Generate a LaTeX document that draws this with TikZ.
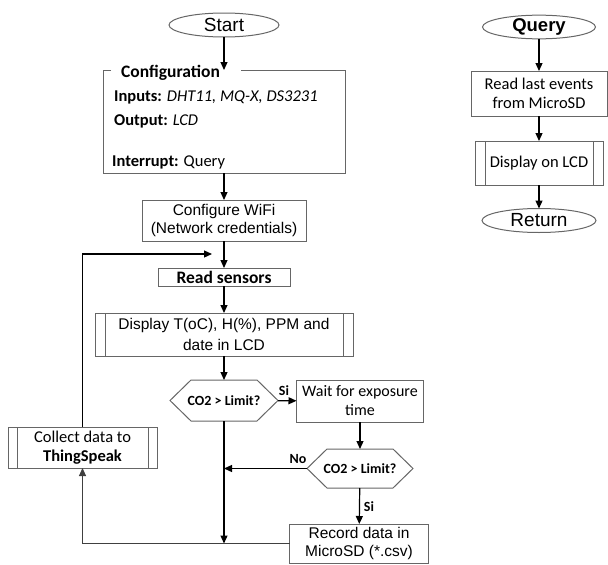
\documentclass[tikz,border=0pt]{standalone}
\usepackage{fontspec}
\setmainfont{Liberation Sans}
\newfontfamily\calibrifont{Carlito}
\usetikzlibrary{shapes.geometric,arrows.meta}

\newcommand{\hexoutline}[2]{
    \draw[shapeline] (#1.west) -- ([xshift=#2]#1.north west) -- ([xshift=-#2]#1.north east)
        -- (#1.east) -- ([xshift=-#2]#1.south east) -- ([xshift=#2]#1.south west) -- cycle;
}
\newcommand{\sidebars}[2]{
    \draw[shapeline] ([xshift=#2]#1.north west) -- ([xshift=#2]#1.south west)
        ([xshift=-#2]#1.north east) -- ([xshift=-#2]#1.south east);
}
\tikzset{x=1pt, y=-1pt,
    shapeline/.style={draw=black!60, line width=1pt},
    box/.style={shapeline, rectangle, align=center, inner sep=0pt, outer sep=0pt},
    plain/.style={rectangle, align=center, inner sep=0pt, outer sep=0pt},
    term/.style={shapeline, ellipse, inner sep=0pt, outer sep=0pt, font=\fontsize{19}{21}\selectfont},
    arial/.style={font=\fontsize{15.5}{18}\selectfont},
    calib/.style={font=\calibrifont\fontsize{16.5}{19}\selectfont},
    flow/.style={line width=1.2pt, -{Triangle[length=8pt,width=7pt]}},
    lbl/.style={font=\calibrifont\bfseries\fontsize{14}{15}\selectfont, inner sep=0pt}
}

\begin{document}
\begin{tikzpicture}
    \useasboundingbox (0,0) rectangle (608,565);
    % main loop
    \node[term, minimum width=110pt, minimum height=24pt] (start) at (224,25) {Start};
    \node[plain, minimum width=242pt, minimum height=103pt] (config) at (224,121.5) {};
    \draw[shapeline] ([xshift=8pt]config.north west) -- (config.north west) -- (config.south west)
        -- (config.south east) -- (config.north east) -- ([xshift=138pt]config.north west);
    \node[calib, font=\calibrifont\bfseries\fontsize{17.5}{19}\selectfont, anchor=west, inner sep=0pt] (cfgtitle) at (121,73) {Configuration};
    \node[calib, anchor=west, inner sep=0pt] (cfgin) at (114,97) {\textbf{Inputs:} \textit{DHT11, MQ-X, DS3231}};
    \node[calib, anchor=west, inner sep=0pt] (cfgout) at (114,121) {\textbf{Output:} \textit{LCD}};
    \node[calib, anchor=west, inner sep=0pt] (cfgint) at (112,162) {\textbf{Interrupt:} Query};
    \node[box, arial, minimum width=164pt, minimum height=41pt] (wifi) at (224,220.5) {Configure WiFi\\(Network credentials)};
    \node[box, font=\calibrifont\bfseries\fontsize{17.5}{19}\selectfont, minimum width=132pt, minimum height=18pt] (read) at (224,277) {Read sensors};
    \node[box, arial, font=\fontsize{15.5}{21}\selectfont, minimum width=258pt, minimum height=43pt] (disp) at (224,334.5) {Display T(oC), H(\%), PPM and\\date in LCD};
    \sidebars{disp}{10pt}
    \node[plain, lbl, minimum width=108pt, minimum height=41pt] (dec1) at (224,400.5) {CO2 > Limit?};
    \hexoutline{dec1}{21pt}
    \node[box, calib, font=\calibrifont\fontsize{16}{19}\selectfont, minimum width=127pt, minimum height=42pt] (wait) at (360,401) {Wait for exposure\\time};
    \node[plain, lbl, minimum width=106pt, minimum height=39pt] (dec2) at (360,468.5) {CO2 > Limit?};
    \hexoutline{dec2}{20pt}
    \node[box, arial, minimum width=139pt, minimum height=39pt] (rec) at (359,543.5) {Record data in\\MicroSD (*.csv)};
    \node[box, calib, minimum width=149pt, minimum height=41pt] (collect) at (82.5,447.5) {Collect data to\\\textbf{ThingSpeak}};
    \sidebars{collect}{9pt}
    \coordinate (loopin) at (212,254);
    \node[lbl] (si1) at (284,391) {Si};
    \node[lbl] (no) at (298,459) {No};
    \node[lbl] (si2) at (369,507) {Si};

    \draw[flow] (start) -- (config.north);
    \draw[flow] (config) -- (wifi);
    \draw[flow] (wifi) -- (read);
    \draw[flow] (read) -- (disp);
    \draw[flow] (disp) -- (dec1);
    \draw[flow] (dec1) -- (wait);
    \draw[flow] (wait) -- (dec2);
    \draw[flow] (dec2) -- (rec);
    \draw[flow] (dec2.west) -- (dec2.west -| dec1.south);
    \draw[flow] (dec1.south) -- (dec1.south |- rec.west);
    \draw[flow, line width=1pt, black!75] (rec.west) -| (collect.south);
    \draw[flow] (collect.north) |- (loopin);

    % query routine
    \node[term, font=\bfseries\fontsize{18.5}{20}\selectfont, minimum width=113pt, minimum height=21pt] (query) at (539,27) {Query};
    \node[box, calib, minimum width=136pt, minimum height=45pt] (last) at (539,93.5) {Read last events\\from MicroSD};
    \node[box, calib, minimum width=128pt, minimum height=44pt] (lcd) at (539,163) {Display on LCD};
    \sidebars{lcd}{10pt}
    \node[term, minimum width=114pt, minimum height=24pt] (ret) at (539,220.5) {Return};
    \draw[flow] (query) -- (last);
    \draw[flow] (last) -- (lcd);
    \draw[flow] (lcd) -- (ret);
\end{tikzpicture}
\end{document}
